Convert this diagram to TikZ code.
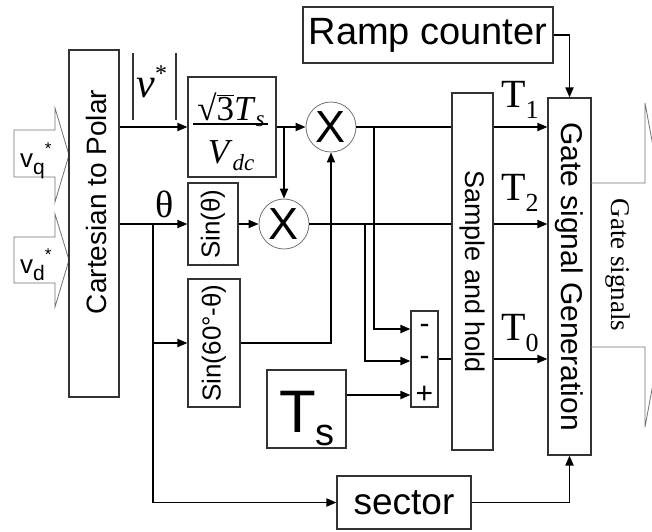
\documentclass[tikz,border=0pt]{standalone}
\usepackage{fontspec}
\setmainfont{Liberation Serif}
\setsansfont{Liberation Sans}
\newfontfamily\serif{Liberation Serif}
\newfontfamily\sans{Liberation Sans}
\newcommand{\fsz}[1]{\fontsize{#1}{#1}\selectfont}
\usetikzlibrary{arrows.meta}
\begin{document}
\begin{tikzpicture}[x=1pt,y=-1pt,
  box/.style={draw=black!80, line width=1.1pt, inner sep=0pt, font=\sans},
  conn/.style={line width=1.8pt, black},
  arr/.style={conn, -{Triangle[length=10pt,width=8pt]}},
  mult/.style={circle, draw=black!55, line width=0.8pt, minimum size=50pt, inner sep=0pt, font=\sans\fsz{45}},
  garrow/.style={draw=black!55, line width=0.8pt},
  sgn/.style={font=\sans\fsz{30}, inner sep=0pt}
  ]
\clip (0,0) rectangle (652,531);
\fill[white] (0,0) rectangle (652,531);

% input block arrows
\draw[garrow] (14,130) -- (55,130) -- (55,108) -- (69,155) -- (55,202) -- (55,177) -- (14,177) -- cycle;
\node[font=\sans\fsz{26}, anchor=base west, inner sep=0pt] (vq) at (20,167) {v\raisebox{-7pt}{\fsz{21}q}\raisebox{13pt}{\fsz{17}*}};
\draw[garrow] (14,237) -- (55,237) -- (55,214) -- (69,260) -- (55,307) -- (55,283) -- (14,283) -- cycle;
\node[font=\sans\fsz{26}, anchor=base west, inner sep=0pt] (vd) at (20,273) {v\raisebox{-7pt}{\fsz{21}d}\raisebox{13pt}{\fsz{17}*}};

% boxes
\node[box, minimum width=50pt, minimum height=347pt] (ctp) at (94,223.5) {};
\node[font=\sans\fsz{28}] (ctptext) at (96,202) {\rotatebox{90}{Cartesian to Polar}};
\node[box, minimum width=88pt, minimum height=100pt] (frac) at (232,127) {};
\node[font=\serif\fsz{35}, anchor=base, inner sep=0pt] (num) at (231,120) {√\rlap{\raisebox{24pt}{\rule{17pt}{1.2pt}}}3\textit{T}\raisebox{-6pt}{\fsz{23}\textit{s}}};
\draw[line width=1.3pt] (193,124) -- (268,124);
\node[font=\serif\fsz{35}, anchor=base, inner sep=0pt] (den) at (231,163) {\textit{V}\raisebox{-7pt}{\fsz{23}\textit{dc}}};
\node[box, minimum width=50pt, minimum height=82pt] (sinth) at (213,224) {\rotatebox{90}{\fsz{26}Sin(θ)}};
\node[box, minimum width=52pt, minimum height=128pt] (sin60) at (214,343) {\rotatebox{90}{\fsz{26}Sin(60°-θ)}};
\node[mult] (x1) at (331,127) {X};
\node[mult] (x2) at (284,224) {X};
\node[box, minimum width=27pt, minimum height=96pt] (sum) at (424.5,359) {};
\node[sgn] (m1) at (424.5,329) {-};
\node[sgn] (m2) at (424.5,361) {-};
\node[sgn] (pl) at (424.5,395) {+};
\node[box, minimum width=79pt, minimum height=78pt] (ts) at (306.5,409) {};
\node[font=\sans\fsz{60}, anchor=base west, inner sep=0pt] (tslab) at (279,432) {T\raisebox{-13pt}{\fsz{38}s}};
\node[box, minimum width=41pt, minimum height=357pt] (sh) at (472.5,271.5) {\rotatebox{-90}{\fsz{27}Sample and hold}};
\node[box, minimum width=43pt, minimum height=357pt] (gsg) at (569.5,276.5) {\rotatebox{-90}{\fsz{30}Gate signal Generation}};
\node[box, minimum width=250pt, minimum height=56pt, font=\sans\fsz{38}] (ramp) at (428,35) {Ramp counter};
\node[box, minimum width=134pt, minimum height=53pt, font=\sans\fsz{37}] (sector) at (404,502.5) {sector};

% output block arrow
\draw[garrow] (591,183) -- (645,183) -- (645,103) -- (675,265) -- (645,427) -- (645,347) -- (591,347);
\node[font=\serif\fsz{27}] (gs) at (618,265) {\rotatebox{-90}{Gate signals}};

% labels
\node[anchor=base west, font=\serif\fsz{42}, inner sep=0pt] (vmag) at (132,97) {\color{black!80}\rule[-23pt]{1.4pt}{67pt}\hspace{3pt}\color{black}\textit{v}\raisebox{16pt}{\fsz{24}*}\hspace{8pt}\color{black!80}\rule[-23pt]{1.4pt}{67pt}};
\node[font=\serif\fsz{38}] (thlab) at (165,204) {θ};
\node[anchor=base west, font=\serif\fsz{40}, inner sep=0pt] (t1) at (501,107) {T\raisebox{-11pt}{\fsz{26}1}};
\node[anchor=base west, font=\serif\fsz{40}, inner sep=0pt] (t2) at (501,200) {T\raisebox{-11pt}{\fsz{26}2}};
\node[anchor=base west, font=\serif\fsz{40}, inner sep=0pt] (t0) at (501,340) {T\raisebox{-11pt}{\fsz{26}0}};

% connectors
\draw[arr] (ctp.east |- frac.west) -- (frac.west);
\draw[arr] (frac.east) -- (x1.west);
\coordinate (b0) at (x2.north |- frac.east);
\draw[arr] (b0) -- (x2.north);
\draw[arr] (ctp.east |- sinth.west) -- (sinth.west);
\coordinate (b1) at (153,224);
\draw[arr] (b1) |- (sin60.west);
\draw[arr] (b1) |- (sector.west);
\draw[arr] (sinth.east) -- (x2.west);
\draw[arr] (sin60.east) -| (x1.south);
\draw[conn] (x1.east) -- (x1.east -| sh.west);
\draw[arr] (x1.east -| sh.east) -- (x1.east -| gsg.west);
\draw[conn] (x2.east) -- (x2.east -| sh.west);
\draw[arr] (x2.east -| sh.east) -- (x2.east -| gsg.west);
\coordinate (b2) at (374,127);
\draw[arr] (b2) |- (sum.west |- m1);
\coordinate (b3) at (365,224);
\draw[arr] (b3) |- (sum.west |- m2);
\draw[arr] (ts.east |- pl) -- (sum.west |- pl);
\draw[conn] (sum.east) -- (sum.east -| sh.west);
\draw[arr] (sum.east -| sh.east) -- (sum.east -| gsg.west);
\draw[arr] (ramp.east) -| (gsg.north);
\draw[arr] (sector.east) -| (gsg.south);
\end{tikzpicture}
\end{document}
